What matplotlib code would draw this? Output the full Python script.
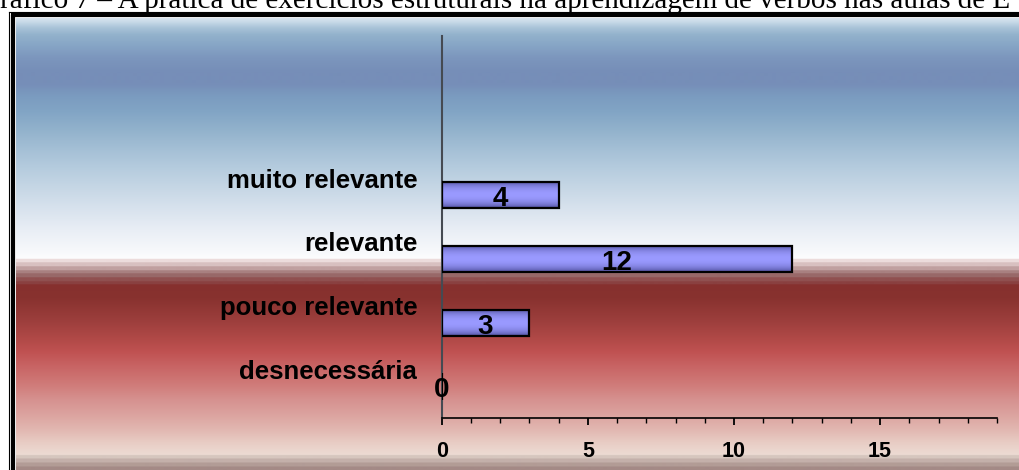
import numpy as np
import matplotlib
matplotlib.use("Agg")
import matplotlib.pyplot as plt
from matplotlib.lines import Line2D
from matplotlib.colors import to_rgb

# ---- data -------------------------------------------------------------
categories = ["desnecessária", "pouco relevante", "relevante", "muito relevante"]
values = [0, 3, 12, 4]
x_ticks = [0, 5, 10, 15]
x_max = 19
title = "Gráfico 7 – A prática de exercícios estruturais na aprendizagem de verbos nas aulas de E"

# ---- figure geometry (pixels) ----------------------------------------
W, H = 1019, 470
fig = plt.figure(figsize=(W / 100, H / 100), dpi=100)


def fx(px):
    return px / W


def fy(py):
    return 1 - py / H


# ---- backdrop gradient (blue sky over red band) -----------------------
stops = [
    (17, "#dfe9f3"), (22, "#c8dae8"), (28, "#a9c3d8"), (35, "#93b2cc"),
    (45, "#87a6c6"), (58, "#7c96bd"), (72, "#768eb8"), (84, "#768eb8"),
    (97, "#7b9cc0"), (112, "#82a5c5"), (130, "#92b2cc"), (150, "#a5c0d6"),
    (170, "#b7cddf"), (190, "#c8d8e6"), (210, "#d9e3ee"), (230, "#e9eef5"),
    (250, "#f6f8fb"), (258.9, "#fdfdfe"),
    (259, "#ecdcdc"), (262, "#ecdcdc"), (262.1, "#d8c0c0"), (266, "#d8c0c0"),
    (266.1, "#c0a0a0"), (270, "#c0a0a0"), (270.1, "#a88080"), (273, "#a88080"),
    (273.1, "#986868"), (277, "#986868"), (277.1, "#905050"), (281, "#905050"),
    (281.1, "#8a4040"), (284, "#8a4040"), (284.1, "#86302e"), (298, "#88322f"),
    (320, "#9c3e3c"), (340, "#b24a48"), (352, "#c05252"), (366, "#c86464"),
    (385, "#d07c7a"), (400, "#d69290"), (415, "#dca4a0"), (430, "#e2b8b2"),
    (442, "#e8ccc4"), (454.9, "#eddcd4"),
    (455, "#d6c6be"), (458, "#d6c6be"), (458.1, "#c4b0aa"), (462, "#c4b0aa"),
    (462.1, "#b29c96"), (466, "#b29c96"), (466.1, "#a48a86"), (471, "#a48a86"),
]
sy = np.array([s[0] for s in stops])
sc = np.array([to_rgb(s[1]) for s in stops])
rows = np.arange(17.5, H, 0.5)
grad = np.stack([np.interp(rows, sy, sc[:, k]) for k in range(3)], axis=-1)
bg = fig.add_axes([fx(16), 0, 1 - fx(16), fy(17.5)])
bg.imshow(grad[:, None, :], aspect="auto", extent=[0, 1, 0, 1],
          interpolation="bilinear")
bg.set_axis_off()
bg.set_zorder(0)

# ---- double frame (runs off the right and bottom edges) ---------------
fig.add_artist(Line2D([fx(8.5), fx(8.5)], [fy(11.5), fy(H + 5)],
                      transform=fig.transFigure, color="black", lw=0.8))
fig.add_artist(Line2D([fx(8.5), fx(W + 5)], [fy(11.5), fy(11.5)],
                      transform=fig.transFigure, color="black", lw=0.8))
fig.add_artist(Line2D([fx(13.2), fx(13.2)], [fy(15.3), fy(H + 5)],
                      transform=fig.transFigure, color="black", lw=3.0,
                      solid_capstyle="butt"))
fig.add_artist(Line2D([fx(11.2), fx(W + 5)], [fy(15.3), fy(15.3)],
                      transform=fig.transFigure, color="black", lw=3.0,
                      solid_capstyle="butt"))

# ---- caption line (runs past the top of the page) ---------------------
fig.text(fx(-21), fy(7.5), title, ha="left", va="baseline",
         family="Liberation Serif", fontsize=21, color="black")

# ---- main bar chart ----------------------------------------------------
ax_left, ax_right, ax_top, ax_bottom = 441.7, 997.0, 36.0, 418.3
ax = fig.add_axes([fx(ax_left), fy(ax_bottom),
                   fx(ax_right - ax_left), (ax_bottom - ax_top) / H])
ax.set_zorder(2)
ax.patch.set_alpha(0)

ypos = np.arange(len(categories))
bar_h = 0.41
bars = ax.barh(ypos, values, height=bar_h, facecolor="none",
               edgecolor="black", linewidth=1.6, zorder=3)

# shaded fill for each bar: darker toward the top and bottom edges
t = np.linspace(0, 1, 64)
f = np.clip(np.sin(np.pi * t), 0, 1) ** 0.55
dark = np.array(to_rgb("#3e3e86"))
light = np.array(to_rgb("#9a9aff"))
bar_grad = dark[None, :] * (1 - f[:, None]) + light[None, :] * f[:, None]
for rect, v, y in zip(bars.patches, values, ypos):
    if v <= 0:
        continue
    im = ax.imshow(bar_grad[:, None, :], aspect="auto",
                   extent=[0, v, y - bar_h / 2, y + bar_h / 2],
                   interpolation="bilinear", zorder=2)
    im.set_clip_path(rect)

# value labels
for v, y in zip(values, ypos):
    ax.text(v / 2, y - 0.17, f"{v}", ha="center", va="baseline",
            family="Liberation Sans", fontweight="bold", fontsize=20,
            color="black", zorder=4, clip_on=False)

# category labels
for name, y in zip(categories, ypos):
    ax.text(-0.84, y + 0.12, name, ha="right", va="baseline",
            family="Liberation Sans", fontweight="bold", fontsize=18.5,
            color="black", clip_on=False)

ax.set_xlim(0, x_max)
ax.set_ylim(-0.5, 5.5)
ax.set_yticks([])
ax.set_xticks(np.arange(0, x_max + 1), minor=True)
ax.set_xticks(x_ticks)
ax.set_xticklabels([str(v) for v in x_ticks])
ax.tick_params(axis="x", which="major", direction="out", length=5.2,
               width=1.3, color="black", pad=11.0, labelsize=15.5)
ax.tick_params(axis="x", which="minor", direction="out", length=3.6,
               width=1.0, color="black")
for lbl in ax.get_xticklabels():
    lbl.set_fontfamily("Liberation Sans")
    lbl.set_fontweight("bold")
for side in ("top", "right"):
    ax.spines[side].set_visible(False)
ax.spines["bottom"].set_color("black")
ax.spines["bottom"].set_linewidth(1.2)
ax.spines["left"].set_color("#454a52")
ax.spines["left"].set_linewidth(1.5)

fig.savefig("out.png", dpi=100)
